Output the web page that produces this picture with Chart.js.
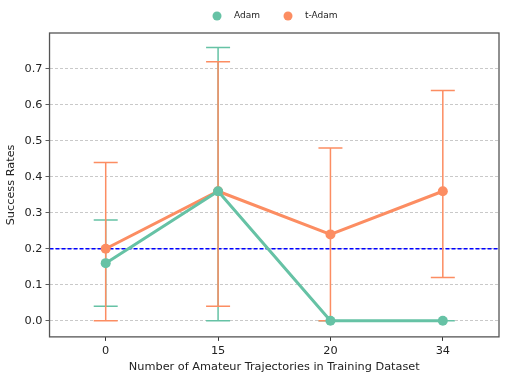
<!DOCTYPE html>
<html>
<head>
<meta charset="utf-8">
<script src="https://cdn.jsdelivr.net/npm/chart.js@4"></script>
<style>
  html, body { margin: 0; padding: 0; background: #fff; }
  #wrap { width: 507px; height: 379px; }
</style>
</head>
<body>
<div id="wrap"><canvas id="chart"></canvas></div>
<script>
const categories = ['0', '15', '20', '34'];
const adamValues = [0.16, 0.36, 0.0, 0.0];
const adamLow = [0.04, 0.0, 0.0, 0.0];
const adamHigh = [0.28, 0.76, 0.0, 0.0];
const tAdamValues = [0.2, 0.36, 0.24, 0.36];
const tAdamLow = [0.0, 0.04, 0.0, 0.12];
const tAdamHigh = [0.44, 0.72, 0.48, 0.64];
const yTicks = [0.0, 0.1, 0.2, 0.3, 0.4, 0.5, 0.6, 0.7];
const baseline = 0.2;

const teal = '#66c2a5';
const orange = '#fc8d62';

// error bars + baseline + frame + legend
const extras = {
    id: 'extras',
    beforeDatasetsDraw(chart) {
        const ctx = chart.ctx;
        const x = chart.scales.x;
        const y = chart.scales.y;
        const area = chart.chartArea;

        ctx.save();
        ctx.strokeStyle = 'rgb(0, 0, 255)';
        ctx.lineWidth = 1.5;
        ctx.setLineDash([4, 2]);
        const by = y.getPixelForValue(baseline);
        ctx.beginPath();
        ctx.moveTo(area.left, by);
        ctx.lineTo(area.right, by);
        ctx.stroke();
        ctx.setLineDash([]);

        const bars = [
            { low: adamLow, high: adamHigh, color: teal },
            { low: tAdamLow, high: tAdamHigh, color: orange }
        ];
        bars.forEach(b => {
            ctx.strokeStyle = b.color;
            ctx.lineWidth = 1.5;
            categories.forEach((c, i) => {
                const px = x.getPixelForValue(i);
                const lo = y.getPixelForValue(b.low[i]);
                const hi = y.getPixelForValue(b.high[i]);
                ctx.beginPath();
                ctx.moveTo(px, lo);
                ctx.lineTo(px, hi);
                ctx.moveTo(px - 12, lo);
                ctx.lineTo(px + 12, lo);
                ctx.moveTo(px - 12, hi);
                ctx.lineTo(px + 12, hi);
                ctx.stroke();
            });
        });
        ctx.restore();
    },
    afterDraw(chart) {
        const ctx = chart.ctx;
        const area = chart.chartArea;
        ctx.save();
        ctx.strokeStyle = '#555';
        ctx.lineWidth = 1.3;
        ctx.strokeRect(area.left, area.top, area.right - area.left, area.bottom - area.top);

        // legend, matplotlib style: marker, gap, label
        ctx.font = '9px "DejaVu Sans"';
        ctx.textBaseline = 'middle';
        const items = chart.data.datasets.map(d => ({ text: d.label, color: d.borderColor }));
        const gapMarker = 17, gapItem = 28;
        let cx = 217;
        const ly = 16;
        items.forEach(it => {
            ctx.fillStyle = it.color;
            ctx.beginPath();
            ctx.arc(cx, ly, 4.5, 0, Math.PI * 2);
            ctx.fill();
            ctx.fillStyle = '#222';
            ctx.fillText(it.text, cx + gapMarker, ly);
            cx += gapMarker + ctx.measureText(it.text).width + gapItem;
        });
        ctx.restore();
    }
};

const font = { family: 'DejaVu Sans', size: 11.3 };

new Chart(document.getElementById('chart'), {
    type: 'line',
    data: {
        labels: categories,
        datasets: [
            {
                label: 'Adam',
                data: adamValues,
                borderColor: teal,
                backgroundColor: teal,
                borderWidth: 3,
                pointRadius: 5,
                pointHoverRadius: 5,
                pointBorderWidth: 0,
                tension: 0
            },
            {
                label: 't-Adam',
                data: tAdamValues,
                borderColor: orange,
                backgroundColor: orange,
                borderWidth: 3,
                pointRadius: 5,
                pointHoverRadius: 5,
                pointBorderWidth: 0,
                tension: 0
            }
        ]
    },
    plugins: [extras],
    options: {
        responsive: true,
        maintainAspectRatio: false,
        animation: false,
        layout: { padding: { left: 4, right: 8, top: 33, bottom: 5 } },
        plugins: {
            legend: { display: false },
            tooltip: { enabled: false }
        },
        scales: {
            x: {
                type: 'category',
                offset: true,
                grid: {
                    display: true,
                    drawOnChartArea: false,
                    drawTicks: true,
                    tickLength: 4,
                    tickColor: '#333'
                },
                border: { display: false },
                ticks: { color: '#222', font: font, padding: 3 },
                title: {
                    display: true,
                    text: 'Number of Amateur Trajectories in Training Dataset',
                    color: '#222',
                    font: font,
                    padding: { top: 0, bottom: 0 }
                }
            },
            y: {
                min: -0.045,
                max: 0.8,
                afterBuildTicks(axis) {
                    axis.ticks = yTicks.map(v => ({ value: v }));
                },
                grid: {
                    color: '#bbb',
                    lineWidth: 0.8,
                    tickLength: 4,
                    tickColor: '#333',
                    tickBorderDash: []
                },
                border: { display: false, dash: [3, 2] },
                ticks: {
                    color: '#222',
                    font: font,
                    padding: 3,
                    callback: v => Number(v).toFixed(1)
                },
                title: {
                    display: true,
                    text: 'Success Rates',
                    color: '#222',
                    font: font,
                    padding: { top: 0, bottom: 4 }
                }
            }
        }
    }
});
</script>
</body>
</html>
